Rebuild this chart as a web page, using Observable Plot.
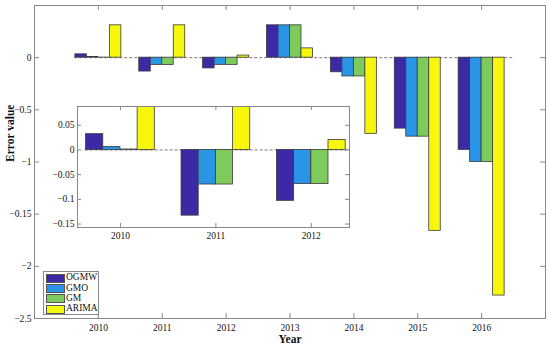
<!DOCTYPE html>
<html><head><meta charset="utf-8">
<script src="https://cdn.jsdelivr.net/npm/d3@7"></script>
<script src="https://cdn.jsdelivr.net/npm/@observablehq/plot@0.6"></script>
<style>
body{margin:0;background:#fff}
#wrap{position:relative;width:550px;height:348px;font-family:"Liberation Serif",serif;overflow:hidden}
#wrap svg, #wrap svg text{font-family:"Liberation Serif",serif !important}
#inset{position:absolute;left:40px;top:100px}
#legend{position:absolute;left:43px;top:271px;width:52px;height:41px;border:1px solid #888;background:#fff;padding:1px 0 0 2px;box-sizing:content-box}
.lrow{display:flex;align-items:center;height:10.3px;font-size:9.5px;color:#111;line-height:1}
.sw{width:17px;height:7px;border:1px solid #555;margin-right:1px;flex:none}
</style>
</head><body><div id="wrap"><div id="main"></div><div id="inset"></div><div id="legend"></div></div>
<script>
const years = [2010, 2011, 2012, 2013, 2014, 2015, 2016];
const series = ["OGMW", "GMO", "GM", "ARIMA"];
const colors = ["#3B2AA6", "#2A95E6", "#7ECA5A", "#F7F70E"];
const ogmw  = [0.032, -0.133, -0.103, 0.31, -0.14, -0.68, -0.884];
const gmo   = [0.006, -0.070, -0.069, 0.31, -0.18, -0.757, -1.00];
const gm    = [0.001, -0.070, -0.069, 0.31, -0.18, -0.757, -1.00];
const arima = [0.31, 0.31, 0.020, 0.089, -0.73, -1.66, -2.28];
const mainYTicks = [0, -0.5, -1, -1.5, -2, -2.5];
const mainYLabels = ["0", "−0.5", "−1", "−0.15", "−2", "−2.5"];
const insetYears = [2010, 2011, 2012];
const insetYTicks = [0.05, 0, -0.05, -0.1, -0.15];
const insetYLabels = ["0.05", "0", "−0.05", "−0.1", "−0.15"];

const values = [ogmw, gmo, gm, arima];
const barW = 0.18;
const rows = [];
years.forEach((yr, j) => {
  series.forEach((s, i) => {
    const off = (i - 1.5) * barW;
    rows.push({year: yr, series: s, value: values[i][j], x1: yr + off - barW / 2, x2: yr + off + barW / 2});
  });
});

const frameC = "#888";
const edgeC = "#3a3a3a";

// main
const mW = 550, mH = 348, mL = 34, mR = 5, mT = 5, mB = 30;
const iw = mW - mL - mR, ih = mH - mT - mB;
const main = Plot.plot({
  width: mW, height: mH,
  marginLeft: mL, marginRight: mR, marginTop: mT, marginBottom: mB,
  style: {fontFamily: "Liberation Serif, serif", fontSize: "9.5px", color: "#111", background: "transparent"},
  x: {domain: [2009, 2017], ticks: years, tickFormat: d => String(d), tickSize: 0, tickPadding: 6, label: null},
  y: {domain: [-2.5, 0.5], ticks: mainYTicks, tickFormat: d => mainYLabels[mainYTicks.indexOf(d)], tickSize: 0, tickPadding: 3, label: null},
  color: {domain: series, range: colors},
  marks: [
    Plot.ruleY([0], {x1: () => years[0] - 0.37, x2: () => years[years.length - 1] + 0.5, stroke: "#777", strokeDasharray: "3,2"}),
    Plot.rect(rows, {x1: "x1", x2: "x2", y1: () => 0, y2: "value", fill: "series", stroke: edgeC, strokeWidth: 0.8}),
    Plot.frame({stroke: frameC}),
    Plot.tickX(years, {x: d => d, insetTop: ih - 5, stroke: frameC}),
    Plot.tickX(years, {x: d => d, insetBottom: ih - 5, stroke: frameC}),
    Plot.tickY(mainYTicks, {y: d => d, insetRight: iw - 5, stroke: frameC}),
    Plot.tickY(mainYTicks, {y: d => d, insetLeft: iw - 5, stroke: frameC}),
    Plot.text(["Year"], {text: d => d, frameAnchor: "bottom", dy: 24, fontWeight: "bold", fontSize: 11.5}),
    Plot.text(["Error value"], {text: d => d, frameAnchor: "left", dx: -24, rotate: -90, fontWeight: "bold", fontSize: 11.5})
  ]
});
document.getElementById("main").appendChild(main);

// inset
const sW = 315, sH = 150, sL = 37, sR = 6, sT = 6, sB = 23;
const siw = sW - sL - sR, sih = sH - sT - sB;
const insetRows = rows.filter(r => insetYears.includes(r.year));
const inset = Plot.plot({
  width: sW, height: sH,
  marginLeft: sL, marginRight: sR, marginTop: sT, marginBottom: sB,
  style: {fontFamily: "Liberation Serif, serif", fontSize: "9.5px", color: "#111", background: "transparent"},
  x: {domain: [2009.55, 2012.4], ticks: insetYears, tickFormat: d => String(d), tickSize: 0, tickPadding: 5, label: null},
  y: {domain: [-0.157, 0.088], ticks: insetYTicks, tickFormat: d => insetYLabels[insetYTicks.indexOf(d)], tickSize: 0, tickPadding: 3, label: null},
  color: {domain: series, range: colors},
  marks: [
    Plot.frame({fill: "white", stroke: "none"}),
    Plot.ruleY([0], {x1: () => insetYears[0] - 0.37, x2: () => insetYears[insetYears.length - 1] + 0.5, stroke: "#777", strokeDasharray: "3,2", clip: true}),
    Plot.rect(insetRows, {x1: "x1", x2: "x2", y1: () => 0, y2: "value", fill: "series", stroke: edgeC, strokeWidth: 0.8, clip: true}),
    Plot.frame({stroke: frameC}),
    Plot.tickX(insetYears, {x: d => d, insetTop: sih - 4, stroke: frameC}),
    Plot.tickX(insetYears, {x: d => d, insetBottom: sih - 4, stroke: frameC}),
    Plot.tickY(insetYTicks, {y: d => d, insetRight: siw - 4, stroke: frameC}),
    Plot.tickY(insetYTicks, {y: d => d, insetLeft: siw - 4, stroke: frameC})
  ]
});
document.getElementById("inset").appendChild(inset);

// legend
const leg = document.getElementById("legend");
series.forEach((s, i) => {
  const r = document.createElement("div");
  r.className = "lrow";
  const sw = document.createElement("div");
  sw.className = "sw";
  sw.style.background = colors[i];
  const t = document.createElement("span");
  t.textContent = s;
  r.appendChild(sw); r.appendChild(t);
  leg.appendChild(r);
});
</script>
</body></html>
